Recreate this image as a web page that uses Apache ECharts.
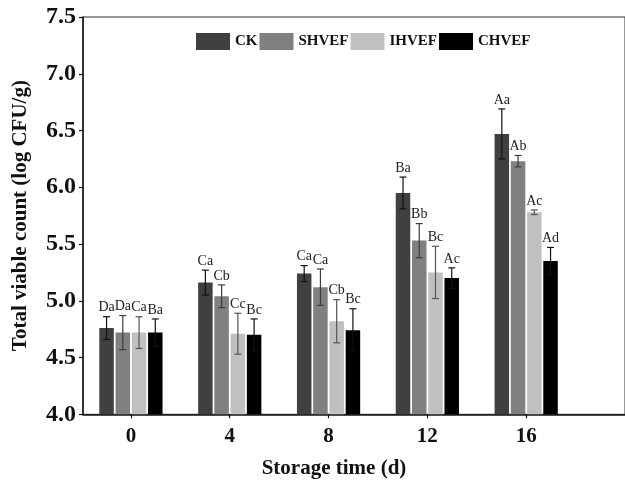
<!DOCTYPE html>
<html>
<head>
<meta charset="utf-8">
<script src="https://cdn.jsdelivr.net/npm/echarts@6/dist/echarts.min.js"></script>
<style>
  html, body { margin: 0; padding: 0; background: #fff; }
  #chart { width: 625px; height: 486px; }
</style>
</head>
<body>
<div id="chart"></div>
<script>
// Storage days on the x axis
const days = [0, 4, 8, 12, 16];
const treatments = ['CK', 'SHVEF', 'IHVEF', 'CHVEF'];

// Mean total viable count (log CFU/g)
const ckMean    = [4.76, 5.16, 5.24, 5.95, 6.47];
const shvefMean = [4.72, 5.04, 5.12, 5.53, 6.23];
const ihvefMean = [4.72, 4.71, 4.82, 5.25, 5.78];
const chvefMean = [4.72, 4.70, 4.74, 5.20, 5.35];

// Standard deviations
const ckSd    = [0.10, 0.11, 0.07, 0.14, 0.22];
const shvefSd = [0.15, 0.10, 0.16, 0.15, 0.05];
const ihvefSd = [0.14, 0.18, 0.19, 0.23, 0.02];
const chvefSd = [0.12, 0.14, 0.19, 0.09, 0.12];

// Significance letters
const ckSig    = ['Da', 'Ca', 'Ca', 'Ba', 'Aa'];
const shvefSig = ['Da', 'Cb', 'Ca', 'Bb', 'Ab'];
const ihvefSig = ['Ca', 'Cc', 'Cb', 'Bc', 'Ac'];
const chvefSig = ['Ba', 'Bc', 'Bc', 'Ac', 'Ad'];

const means = [ckMean, shvefMean, ihvefMean, chvefMean];
const sds = [ckSd, shvefSd, ihvefSd, chvefSd];
const sigs = [ckSig, shvefSig, ihvefSig, chvefSig];

// Styling
const barColors = ['#404040', '#808080', '#c0c0c0', '#000000'];
const errColors = ['#111111', '#3c3c3c', '#555555', '#111111'];
const BAR_W = 14.5;
const GAP_RATIO = 0.12;
const SERIF = '"Liberation Serif", "Times New Roman", serif';

function barOffset(i) {
  const n = treatments.length;
  const step = BAR_W * (1 + GAP_RATIO);
  const total = n * BAR_W + (n - 1) * BAR_W * GAP_RATIO;
  return -total / 2 + i * step + BAR_W / 2;
}

const barSeries = treatments.map((name, i) => ({
  name: name,
  type: 'bar',
  barWidth: BAR_W,
  barGap: (GAP_RATIO * 100) + '%',
  itemStyle: { color: barColors[i] },
  data: days.map((d, k) => [d, means[i][k]]),
  z: 2
}));

const errSeries = treatments.map((name, i) => ({
  name: name + ' sd',
  type: 'custom',
  z: 5,
  silent: true,
  data: days.map((d, k) => [d, means[i][k], sds[i][k]]),
  renderItem: function (params, api) {
    const x = api.value(0), m = api.value(1), s = api.value(2);
    const cx = api.coord([x, m])[0] + barOffset(i);
    const yTop = api.coord([x, m + s])[1];
    const yBot = api.coord([x, m - s])[1];
    const cap = 3.5;
    const lineStyle = { stroke: errColors[i], lineWidth: 1.2 };
    return {
      type: 'group',
      children: [
        { type: 'line', shape: { x1: cx, y1: yTop, x2: cx, y2: yBot }, style: lineStyle },
        { type: 'line', shape: { x1: cx - cap, y1: yTop, x2: cx + cap, y2: yTop }, style: lineStyle },
        { type: 'line', shape: { x1: cx - cap, y1: yBot, x2: cx + cap, y2: yBot }, style: lineStyle },
        {
          type: 'text',
          style: {
            text: sigs[i][params.dataIndex],
            x: cx, y: yTop - 2,
            align: 'center', verticalAlign: 'bottom',
            fill: '#222', font: '14px ' + SERIF
          }
        }
      ]
    };
  }
}));

const chart = echarts.init(document.getElementById('chart'), null, { renderer: 'canvas' });
chart.setOption({
  animation: false,
  backgroundColor: '#fff',
  legend: {
    data: treatments,
    top: 28,
    left: 191,
    itemWidth: 34,
    itemHeight: 17,
    itemGap: 2,
    icon: 'rect',
    textStyle: { fontFamily: SERIF, fontWeight: 'bold', fontSize: 15, color: '#111' }
  },
  grid: {
    left: 83, right: -14.5, top: 17, bottom: 71.7,
    show: true, borderColor: '#333', borderWidth: 1, backgroundColor: 'transparent'
  },
  xAxis: {
    type: 'value',
    min: -1.94, max: 20,
    name: 'Storage time (d)',
    nameLocation: 'middle',
    nameGap: 44,
    nameTextStyle: { fontFamily: SERIF, fontWeight: 'bold', fontSize: 21, color: '#111', padding: [0, 40, 0, 0] },
    axisLine: { show: true, onZero: false, lineStyle: { color: '#111', width: 1.5 } },
    axisTick: { show: true, customValues: days, length: 4, lineStyle: { color: '#111', width: 1.2 } },
    axisLabel: { customValues: days, margin: 12, fontFamily: SERIF, fontWeight: 'bold', fontSize: 21, color: '#111' },
    splitLine: { show: false }
  },
  yAxis: {
    type: 'value',
    min: 4, max: 7.5, interval: 0.5,
    name: 'Total viable count (log CFU/g)',
    nameLocation: 'middle',
    nameGap: 52,
    nameTextStyle: { fontFamily: SERIF, fontWeight: 'bold', fontSize: 21, color: '#111' },
    axisLine: { show: true, onZero: false, lineStyle: { color: '#111', width: 1.5 } },
    axisTick: { show: true, length: 4, lineStyle: { color: '#111', width: 1.2 } },
    axisLabel: {
      margin: 7, fontFamily: SERIF, fontWeight: 'bold', fontSize: 24, color: '#111',
      formatter: v => v.toFixed(1)
    },
    splitLine: { show: false }
  },
  series: barSeries.concat(errSeries)
});
</script>
</body>
</html>
